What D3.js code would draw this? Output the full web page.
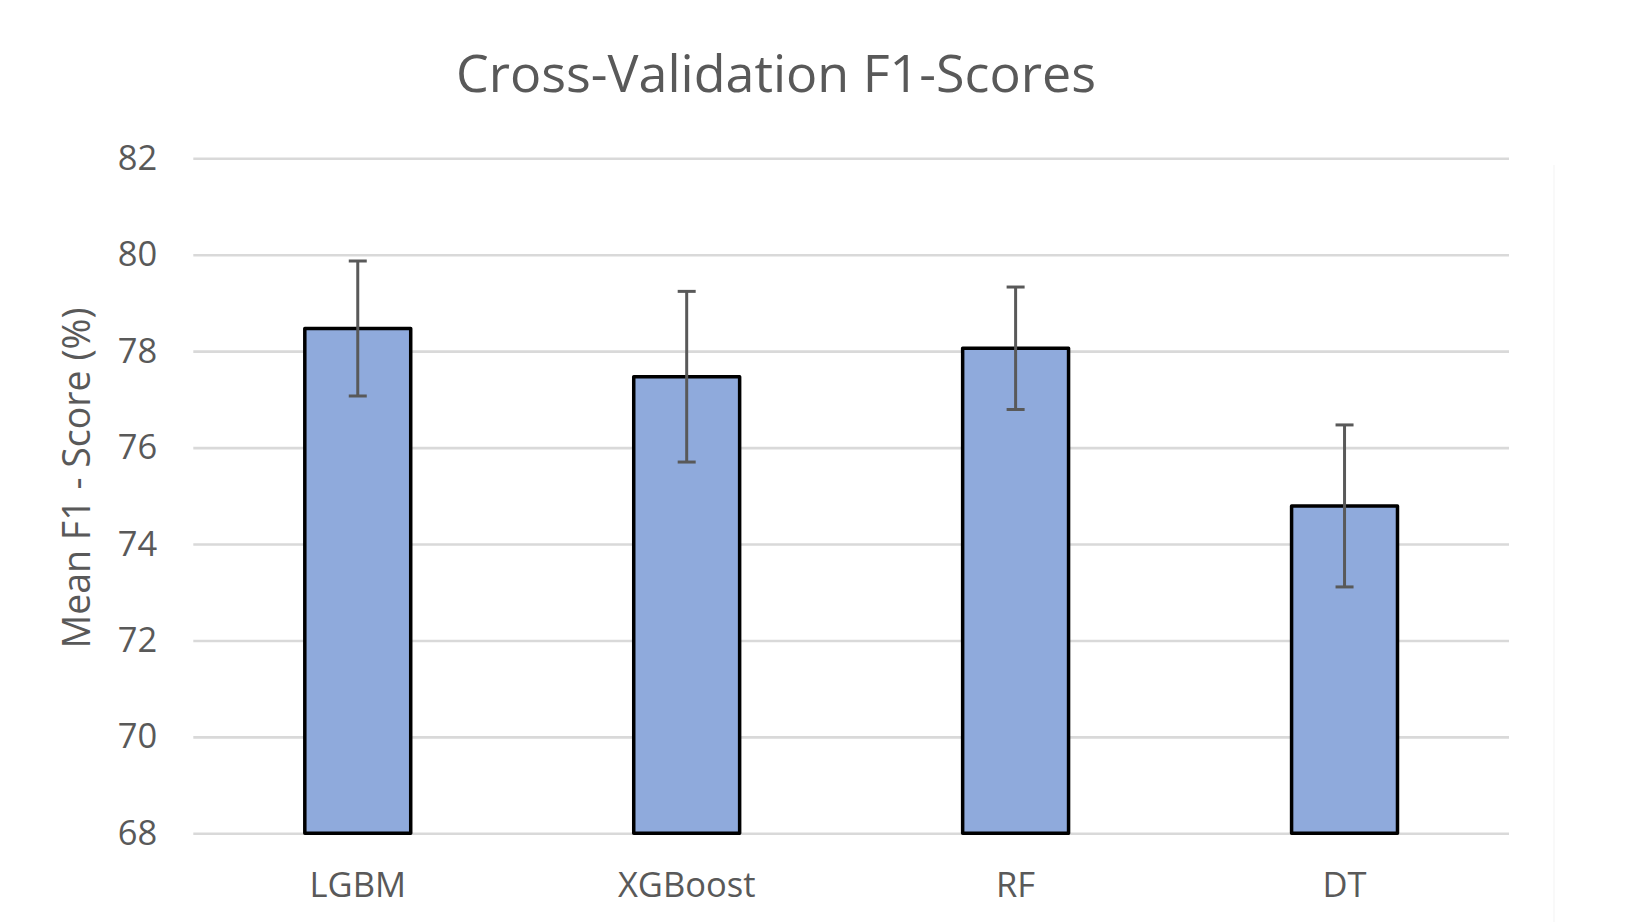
<!DOCTYPE html>
<html>
<head>
<meta charset="utf-8">
<script src="https://cdn.jsdelivr.net/npm/d3@7"></script>
<style>
  html, body { margin: 0; padding: 0; background: #ffffff; }
  svg { display: block; }
  text { font-family: "Open Sans", "Noto Sans", sans-serif; fill: #595959; }
</style>
</head>
<body>
<svg id="chart" width="1629" height="922"></svg>
<script>
const categories = ["LGBM", "XGBoost", "RF", "DT"];
const means = [78.47, 77.47, 78.06, 74.79];
const errors = [1.40, 1.77, 1.27, 1.68];
const yTicks = [68, 70, 72, 74, 76, 78, 80, 82];
const titleText = "Cross-Validation F1-Scores";
const yLabel = "Mean F1 - Score (%)";

(function () {
const svg = d3.select("#chart");
const pLeft = 193.3, pRight = 1509, pTop = 158.3, pBottom = 833.3;

const x = d3.scaleBand().domain(categories).range([pLeft, pRight]).padding(0);
const y = d3.scaleLinear().domain([68, 82]).range([pBottom, pTop]);
const barW = x.bandwidth() * 0.322;

// faint frame line on right
svg.append("line").attr("x1", 1554).attr("x2", 1554).attr("y1", 165).attr("y2", 922)
  .attr("stroke", "#f3f3f3").attr("stroke-width", 1);

// gridlines via axis
const yAxis = d3.axisLeft(y).tickValues(yTicks).tickSize(-(pRight - pLeft)).tickPadding(36).tickFormat(d3.format("d"));
const gAxis = svg.append("g").attr("transform", `translate(${pLeft},0)`).call(yAxis);
gAxis.select(".domain").remove();
gAxis.selectAll(".tick line").attr("stroke", "#d9d9d9").attr("stroke-width", 2.6);
gAxis.selectAll(".tick text").attr("font-size", 34.5).attr("fill", "#595959")
  .style("font-family", "'Open Sans', sans-serif");

// bars
svg.append("g").selectAll("rect").data(categories).join("rect")
  .attr("x", d => x(d) + x.bandwidth() / 2 - barW / 2)
  .attr("y", (d, i) => y(means[i]))
  .attr("width", barW)
  .attr("height", (d, i) => y(68) - y(means[i]))
  .attr("fill", "#8faadc")
  .attr("stroke", "#000000")
  .attr("stroke-width", 3.5)
  .attr("stroke-linejoin", "round");

// error bars
const eb = svg.append("g").attr("stroke", "#595959").attr("stroke-width", 3);
categories.forEach((c, i) => {
  const cx = x(c) + x.bandwidth() / 2;
  const hi = y(means[i] + errors[i]), lo = y(means[i] - errors[i]);
  eb.append("line").attr("x1", cx).attr("x2", cx).attr("y1", hi).attr("y2", lo);
  eb.append("line").attr("x1", cx - 9).attr("x2", cx + 9).attr("y1", hi).attr("y2", hi);
  eb.append("line").attr("x1", cx - 9).attr("x2", cx + 9).attr("y1", lo).attr("y2", lo);
});

// x labels
const xAxis = d3.axisBottom(x).tickSize(0).tickPadding(0);
const gx = svg.append("g").attr("transform", `translate(0,${pBottom})`).call(xAxis);
gx.select(".domain").remove();
gx.selectAll(".tick text").attr("font-size", 34.5).attr("dy", null).attr("y", 63.4)
  .attr("fill", "#595959").style("font-family", "'Open Sans', sans-serif");

// title
svg.append("text").attr("x", 776).attr("y", 91.5).attr("text-anchor", "middle")
  .attr("font-size", 52).text(titleText);

// y label
svg.append("text").attr("transform", "translate(90,478) rotate(-90)")
  .attr("text-anchor", "middle").attr("font-size", 37.5).text(yLabel);
})();
</script>
</body>
</html>
